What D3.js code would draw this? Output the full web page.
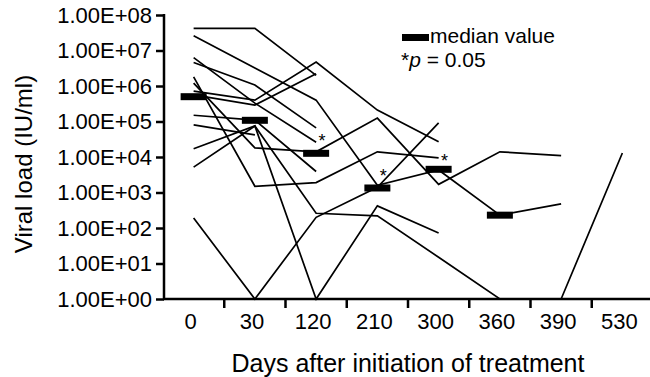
<!DOCTYPE html>
<html>
<head>
<meta charset="utf-8">
<script src="https://cdn.jsdelivr.net/npm/d3@7"></script>
<style>
  body { margin: 0; background: #fff; }
  text { font-family: "Liberation Sans", Arial, sans-serif; fill: #000; }
</style>
</head>
<body>
<script>
const w = 650;
const h = 377;

// days after start of treatment
const days = ["0", "30", "120", "210", "300", "360", "390", "530"];

// viral load per patient (IU/ml), null where no measurement, 1 = undetectable
const pt1  = [4.2e7, 4.2e7, 2.0e6, null, null, null, null, null];
const pt2  = [2.6e7, 3.2e6, 4.0e5, 1.6e3, 4.3e3, 2.3e2, 4.8e2, null];
const pt3  = [6.3e6, 3.3e5, 2.6e4, null, null, null, null, null];
const pt4  = [4.6e6, 1.07e6, 6.6e4, null, null, null, null, null];
const pt5  = [1.8e6, 1.5e3, 1.9e3, 1.4e4, 9.4e3, null, null, null];
const pt6  = [1.2e6, 1.8e4, 1.4e4, 1.25e5, 1.7e3, 1.4e4, 1.1e4, null];
const pt7  = [7.2e5, 4.0e5, 4.7e6, 2.1e5, 2.7e4, null, null, null];
const pt8  = [5.6e5, 2.9e5, 2.2e6, null, null, null, null, null];
const pt9  = [1.5e5, 1.1e5, 3.9e3, null, null, null, null, null];
const pt10 = [8.0e4, 4.2e4, null, null, null, null, null, null];
const pt11 = [1.7e4, 7.5e4, 1, 4.2e2, 72, null, null, null];
const pt12 = [5.2e3, 7.5e4, 2.6e2, 2.2e2, 15, 1, 1, 1.3e4];
const pt13 = [1.9e2, 1, 2.0e2, 1.4e3, 9.1e4, null, null, null];
const patients = [pt1, pt2, pt3, pt4, pt5, pt6, pt7, pt8, pt9, pt10, pt11, pt12, pt13];

// median per time point
const medianDays = ["0", "30", "120", "210", "300", "360"];
const medians = [5.0e5, 1.08e5, 1.27e4, 1.34e3, 4.5e3, 2.3e2];

// significance marks
const starDays = ["120", "210", "300"];
const starVals = [3.7e4, 3.9e3, 1.0e4];

const yTicks = [1, 1e1, 1e2, 1e3, 1e4, 1e5, 1e6, 1e7, 1e8];

const svg = d3.select("body")
    .append("svg")
    .attr("width", w)
    .attr("height", h)
    ;

const x = d3.scaleBand()
    .domain(days)
    .range([163, 653])
    ;

const y = d3.scaleLog()
    .domain([1, 1e8])
    .range([299, 15])
    ;

const cx = (d) => x(d) + x.bandwidth() / 2;

// y axis
const yAxis = d3.axisLeft(y)
    .tickValues(yTicks)
    .tickSize(8)
    .tickPadding(4)
    .tickFormat((d) => "1.00E+" + String(Math.round(Math.log10(d))).padStart(2, "0"))
    ;

const gy = svg.append("g")
    .attr("transform", "translate(164,0)")
    .call(yAxis)
    ;
gy.select(".domain").attr("stroke-width", 2.5).attr("d", "M0,14V299");
gy.selectAll(".tick line").attr("stroke-width", 2.5);
gy.selectAll(".tick text").style("font-size", "22px");

// x axis: labels at centres, ticks at category borders
const xAxis = d3.axisBottom(x)
    .tickSize(0)
    .tickPadding(14)
    ;

const gx = svg.append("g")
    .attr("transform", "translate(0,299)")
    .call(xAxis)
    ;
gx.select(".domain").attr("stroke-width", 2.5).attr("d", "M163,0H650");
gx.selectAll(".tick text").style("font-size", "22px").attr("dx", -3);

gx.selectAll(".border")
    .data(days.slice(1))
    .enter()
    .append("line")
    .attr("class", "border")
    .attr("x1", (d) => x(d))
    .attr("x2", (d) => x(d))
    .attr("y1", 0)
    .attr("y2", 9)
    .attr("stroke", "#000")
    .attr("stroke-width", 2.5)
    ;

// patient lines
const line = d3.line()
    .defined((d) => d.v != null)
    .x((d) => cx(d.day))
    .y((d) => y(d.v))
    ;

svg.append("g")
    .selectAll("path")
    .data(patients.map((p) => p.map((v, i) => ({day: days[i], v: v}))))
    .enter()
    .append("path")
    .attr("d", line)
    .attr("fill", "none")
    .attr("stroke", "#000")
    .attr("stroke-width", 1.7)
    ;

// median bars
svg.append("g")
    .selectAll("rect")
    .data(medians)
    .enter()
    .append("rect")
    .attr("x", (d, i) => cx(medianDays[i]) - 13)
    .attr("y", (d) => y(d) - 3.5)
    .attr("width", 26)
    .attr("height", 7)
    .attr("fill", "#000")
    ;

// stars
svg.append("g")
    .selectAll("text")
    .data(starVals)
    .enter()
    .append("text")
    .attr("x", (d, i) => cx(starDays[i]) + 6)
    .attr("y", (d) => y(d) + 10)
    .attr("text-anchor", "middle")
    .style("font-size", "18px")
    .text("*")
    ;

// legend
svg.append("rect")
    .attr("x", 402)
    .attr("y", 34)
    .attr("width", 27)
    .attr("height", 7)
    .attr("fill", "#000")
    ;
svg.append("text")
    .attr("x", 430)
    .attr("y", 43)
    .style("font-size", "21px")
    .text("median value")
    ;
const sig = svg.append("text")
    .attr("x", 401)
    .attr("y", 67)
    .style("font-size", "21px")
    ;
sig.append("tspan").text("*");
sig.append("tspan").style("font-style", "italic").text("p");
sig.append("tspan").text(" = 0.05");

// axis titles
svg.append("text")
    .attr("x", 408)
    .attr("y", 372)
    .attr("text-anchor", "middle")
    .style("font-size", "25px")
    .text("Days after initiation of treatment")
    ;
svg.append("text")
    .attr("transform", "translate(32,164) rotate(-90)")
    .attr("text-anchor", "middle")
    .style("font-size", "24px")
    .text("Viral load (IU/ml)")
    ;
</script>
</body>
</html>
